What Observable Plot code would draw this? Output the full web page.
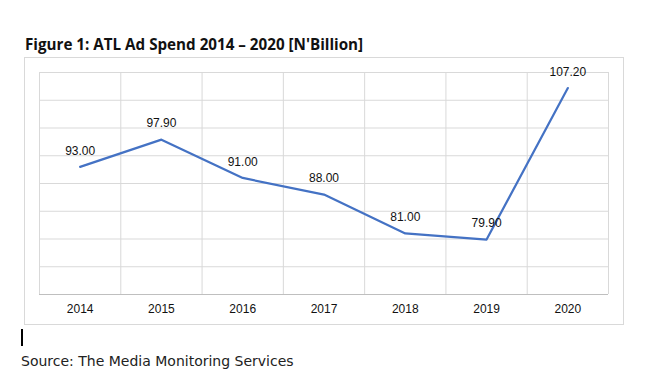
<!DOCTYPE html>
<html>
<head>
<meta charset="utf-8">
<script src="https://cdn.jsdelivr.net/npm/d3@7"></script>
<script src="https://cdn.jsdelivr.net/npm/@observablehq/plot@0.6"></script>
<style>
  html, body { margin: 0; padding: 0; background: #fff; }
  #page { position: relative; width: 664px; height: 377px; overflow: hidden; background: #fff; }
  #title { position: absolute; left: 25px; top: 34px; font-family: "Open Sans", sans-serif; font-weight: bold; font-size: 15.2px; color: #111; white-space: nowrap; }
  #box { position: absolute; left: 24px; top: 57px; width: 598px; height: 266px; border: 1px solid #d9d9d9; }
  #box svg { display: block; }
  #cursor { position: absolute; left: 21px; top: 329px; width: 2px; height: 17px; background: #000; }
  #source { position: absolute; left: 21px; top: 353px; font-family: "DejaVu Sans", sans-serif; font-size: 14px; color: #222; white-space: nowrap; }
</style>
</head>
<body>
<div id="page">
  <div id="title">Figure 1: ATL Ad Spend 2014 – 2020 [N'Billion]</div>
  <div id="box"></div>
  <div id="cursor"></div>
  <div id="source">Source: The Media Monitoring Services</div>
</div>
<script>
const years = [2014, 2015, 2016, 2017, 2018, 2019, 2020];
const values = [93.00, 97.90, 91.00, 88.00, 81.00, 79.90, 107.20];
const yGrid = [75, 80, 85, 90, 95, 100, 105, 110];
const yDomain = [70, 110];

const data = years.map((year, i) => ({year, value: values[i]}));
const edges = [...years.map(y => y - 0.5), years[years.length - 1] + 0.5];

const chart = Plot.plot({
  width: 598,
  height: 266,
  marginLeft: 14,
  marginTop: 14,
  marginRight: 15,
  marginBottom: 30,
  x: {domain: [years[0] - 0.5, years[years.length - 1] + 0.5], axis: null},
  y: {domain: yDomain, axis: null},
  style: {fontFamily: "'Liberation Sans', Arial, sans-serif", fontSize: "12px", color: "#111", background: "#fff"},
  marks: [
    Plot.ruleY(yGrid, {stroke: "#d9d9d9", strokeOpacity: 1}),
    Plot.ruleX(edges, {stroke: "#d9d9d9", strokeOpacity: 1}),
    Plot.ruleY([yDomain[0]], {stroke: "#bfbfbf", strokeOpacity: 1}),
    Plot.line(data, {x: "year", y: "value", stroke: "#4472C4", strokeWidth: 2.2}),
    Plot.text(data, {x: "year", y: "value", text: d => d.value.toFixed(2), dy: -16, fill: "#111", fontSize: 12}),
    Plot.axisX({ticks: years, tickFormat: d => String(d), tickSize: 0, tickPadding: 10, fontSize: 12, fill: "#111", label: null})
  ]
});
document.getElementById("box").appendChild(chart);
</script>
</body>
</html>
